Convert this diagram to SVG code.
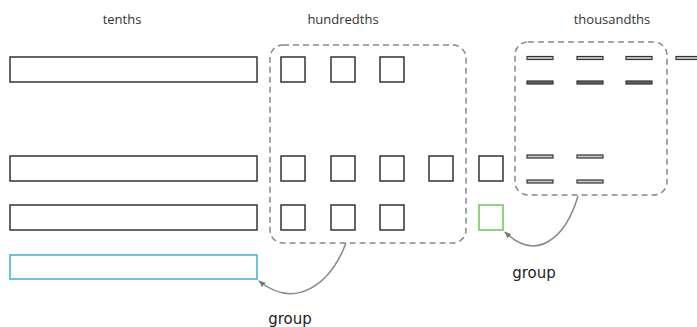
<svg xmlns="http://www.w3.org/2000/svg" width="697" height="327" viewBox="0 0 697 327">
  <defs>
    <style>
      .hdr { font-family: "Open Sans", "Noto Sans", sans-serif; font-size: 13px; fill: #333; text-anchor: middle; }
      .lbl { font-family: "DejaVu Sans", Verdana, sans-serif; font-size: 15px; fill: #222; text-anchor: middle; }
      .tenth, .hund { fill: #fff; stroke: #333; stroke-width: 1.5; }
      .thou { fill: #c8c8c8; stroke: #333; stroke-width: 1.2; }
      .thou.dark { fill: #666; }
      .group { fill: none; stroke: #888; stroke-width: 1.5; stroke-dasharray: 6 4; }
      .sel-blue { fill: #fff; stroke: #3ab0d8; stroke-width: 1.5; }
      .sel-green { fill: #fff; stroke: #6cc35a; stroke-width: 1.5; }
      .link { fill: none; stroke: #888; stroke-width: 1.5; }
    </style>
    <marker id="arrow" viewBox="0 0 10 10" refX="9" refY="5" markerWidth="7" markerHeight="7" orient="auto-start-reverse" markerUnits="userSpaceOnUse">
      <path d="M0,1 L10,5 L0,9 z" fill="#777"/>
    </marker>
  </defs>

  <rect width="697" height="327" fill="#fff"/>

  <!-- column headings -->
  <g id="headings">
    <text class="hdr" x="122" y="24">tenths</text>
    <text class="hdr" x="343" y="24">hundredths</text>
    <text class="hdr" x="612" y="24">thousandths</text>
  </g>

  <!-- tenths bars -->
  <g id="tenths">
    <rect class="tenth" x="10" y="57" width="247" height="25"/>
    <rect class="tenth" x="10" y="156" width="247" height="25"/>
    <rect class="tenth" x="10" y="205" width="247" height="25"/>
  </g>
  <g id="tenth-selected">
    <rect class="sel-blue" x="10" y="255" width="247" height="24"/>
  </g>

  <!-- hundredths squares -->
  <g id="hundredths">
    <rect class="hund" x="281" y="57" width="24" height="25"/>
    <rect class="hund" x="331" y="57" width="24" height="25"/>
    <rect class="hund" x="380" y="57" width="24" height="25"/>
    <rect class="hund" x="281" y="156" width="24" height="25"/>
    <rect class="hund" x="331" y="156" width="24" height="25"/>
    <rect class="hund" x="380" y="156" width="24" height="25"/>
    <rect class="hund" x="429" y="156" width="24" height="25"/>
    <rect class="hund" x="479" y="156" width="24" height="25"/>
    <rect class="hund" x="281" y="205" width="24" height="25"/>
    <rect class="hund" x="331" y="205" width="24" height="25"/>
    <rect class="hund" x="380" y="205" width="24" height="25"/>
  </g>
  <g id="hundredth-selected">
    <rect class="sel-green" x="479" y="205" width="24" height="25"/>
  </g>
  <g id="hundredths-group">
    <rect class="group" x="270" y="45" width="196" height="198" rx="13"/>
  </g>

  <!-- thousandths strips -->
  <g id="thousandths">
    <rect class="thou" x="527" y="56.5" width="26" height="3"/>
    <rect class="thou" x="577" y="56.5" width="26" height="3"/>
    <rect class="thou" x="626" y="56.5" width="26" height="3"/>
    <rect class="thou" x="676" y="56.5" width="26" height="3"/>
    <rect class="thou dark" x="527" y="81" width="26" height="3"/>
    <rect class="thou dark" x="577" y="81" width="26" height="3"/>
    <rect class="thou dark" x="626" y="81" width="26" height="3"/>
    <rect class="thou" x="527" y="155" width="26" height="3"/>
    <rect class="thou" x="577" y="155" width="26" height="3"/>
    <rect class="thou" x="527" y="180" width="26" height="3"/>
    <rect class="thou" x="577" y="180" width="26" height="3"/>
  </g>
  <g id="thousandths-group">
    <rect class="group" x="515" y="42" width="152" height="153" rx="13"/>
  </g>

  <!-- connectors -->
  <g id="connectors">
    <path class="link" d="M346,243 C330,285 295,310 259,281" marker-end="url(#arrow)"/>
    <path class="link" d="M578,196 C565,240 535,262 505,232" marker-end="url(#arrow)"/>
  </g>

  <g id="labels">
    <text class="lbl" x="290" y="324">group</text>
    <text class="lbl" x="534" y="278">group</text>
  </g>
</svg>
